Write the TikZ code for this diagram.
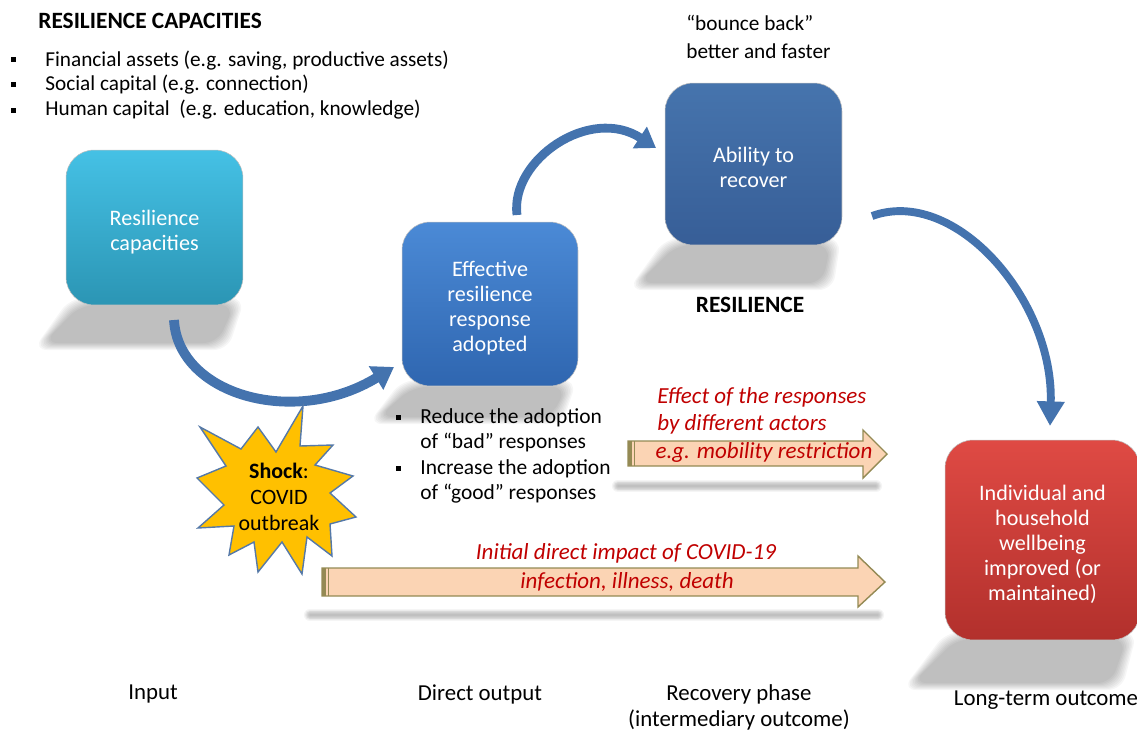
\documentclass[tikz,border=0pt]{standalone}
\usepackage{fontspec}
\setmainfont{Carlito}
\usetikzlibrary{arrows.meta}
\definecolor{cyantop}{HTML}{45C1E5}
\definecolor{cyanbot}{HTML}{2B95B4}
\definecolor{bluetop}{HTML}{4B8AD6}
\definecolor{bluebot}{HTML}{2F66B0}
\definecolor{navytop}{HTML}{4674AD}
\definecolor{navybot}{HTML}{375E97}
\definecolor{redtop}{HTML}{DF4A44}
\definecolor{redbot}{HTML}{B2302C}
\definecolor{arrowblue}{HTML}{4473AE}
\definecolor{peach}{HTML}{FBD4B4}
\definecolor{olive}{HTML}{948A54}
\definecolor{darkred}{HTML}{C00000}
\definecolor{starfill}{HTML}{FFC000}
\definecolor{starline}{HTML}{5579A8}
\newcommand\mysoftshadow[8]{%
  \foreach \k in {0,...,7}{%
    \fill[black,opacity=0.036,rounded corners=8pt]
      (#1+\k*1.5,#2+\k) -- (#3-\k*1.5,#4+\k) -- (#5-\k*1.5,#6-\k) -- (#7+\k*1.5,#8-\k) -- cycle;}}
\newcommand\mylineshadow[3]{%
  \foreach \w in {1,...,7}{%
    \draw[black,opacity=0.04,line width=\w pt,line cap=round] (#1,#3) -- (#2,#3);}}
\begin{document}
\begin{tikzpicture}[x=0.02cm,y=-0.02cm,
  txt/.style={font=\fontsize{12.1}{14.2}\selectfont, inner sep=0pt, text=black},
  boldtxt/.style={txt, font=\fontsize{13.3}{15}\selectfont\bfseries},
  redtxt/.style={txt, text=darkred, font=\fontsize{13.1}{15.3}\selectfont\itshape},
  labeltxt/.style={txt, font=\fontsize{13}{14.8}\selectfont},
  box/.style={rounded corners=16pt, draw=black!25, line width=0.3pt, inner sep=0pt},
  boxtxt/.style={text=white, align=center, font=\fontsize{12.6}{14.3}\selectfont, inner sep=0pt},
  carrow/.style={draw=arrowblue, line cap=butt},
  blockarrow/.style={fill=peach, draw=olive, line width=0.8pt, line join=miter},
  bulletsq/.style={fill=black}
  ]
\useasboundingbox (0,0) rectangle (1137,730);

% ---------- shadows ----------
\mysoftshadow{70}{298}{245}{298}{228}{350}{33}{350}
\mysoftshadow{402}{380}{577}{380}{562}{424}{368}{424}
\mysoftshadow{666}{238}{841}{238}{833}{290}{628}{290}
\mysoftshadow{946}{632}{1137}{632}{1122}{690}{902}{690}
\mylineshadow{618}{876}{486}
\mylineshadow{310}{878}{615}

% ---------- header text ----------
\node[boldtxt, anchor=west] (title) at (38,21) {RESILIENCE CAPACITIES};
\fill[bulletsq] (11,57) rectangle (16,62);
\fill[bulletsq] (11,82) rectangle (16,87);
\fill[bulletsq] (11,108) rectangle (16,113);
\node[txt, anchor=west, align=left] (caplist) at (45,85)
  {Financial assets (e.g. saving, productive assets)\\
   Social capital (e.g. connection)\\
   Human capital\ \ (e.g. education, knowledge)};

\node[txt, anchor=west, align=left, font=\fontsize{12.1}{15.9}\selectfont] (bounce) at (686,37)
  {“bounce back”\\better and faster};

% ---------- boxes ----------
\node[box, top color=cyantop, bottom color=cyanbot, minimum width=3.54cm, minimum height=3.1cm]
  (rc) at (154.5,227.5) {};
\node[boxtxt] (rctxt) at ([yshift=-2.5pt]rc.center) {Resilience\\capacities};
\node[box, top color=bluetop, bottom color=bluebot, minimum width=3.52cm, minimum height=3.28cm]
  (err) at (490,304) {};
\node[boxtxt] (errtxt) at ([yshift=-2.5pt]err.center) {Effective\\resilience\\response\\adopted};
\node[box, top color=navytop, bottom color=navybot, minimum width=3.54cm, minimum height=3.24cm]
  (atr) at (753.5,164) {};
\node[boxtxt] (atrtxt) at ([yshift=-2pt]atr.center) {Ability to\\recover};
\node[box, top color=redtop, bottom color=redbot, minimum width=3.9cm, minimum height=4cm]
  (iwb) at (1042.5,540) {};
\node[boxtxt] (iwbtxt) at ([yshift=-2.5pt]iwb.center) {Individual and\\household\\wellbeing\\improved (or\\maintained)};

\node[boldtxt] (resil) at (750,305) {RESILIENCE};

% ---------- curved arrows ----------
\coordinate (a1s) at (174,320);
\coordinate (a1e) at (394,367);
\draw[carrow, line width=5.6pt, -{Triangle[width=15pt,length=12pt]}]
  (a1s) .. controls (178,395) and (295,428) .. (a1e);
\coordinate (a2s) at (517,215);
\coordinate (a2e) at (656,148);
\draw[carrow, line width=5pt, -{Triangle[width=14pt,length=11pt]}]
  (a2s) .. controls (510,160) and (590,105) .. (a2e);
\coordinate (a3s) at (872,216);
\coordinate (a3e) at (1050,426);
\draw[carrow, line width=4.5pt, -{Triangle[width=15pt,length=14pt]}]
  (a3s) .. controls (955,186) and (1054,300) .. (a3e);

% ---------- bullets under box 2 ----------
\fill[bulletsq] (396,415) rectangle (401,420);
\fill[bulletsq] (396,466) rectangle (401,471);
\node[txt, anchor=west, align=left, font=\fontsize{12.2}{14.35}\selectfont] (resp) at (420,456)
  {Reduce the adoption\\of “bad” responses\\Increase the adoption\\of “good” responses};

% ---------- block arrows ----------
\draw[blockarrow] (628,441) -- (863,441) -- (863,430) -- (887,454) -- (863,478) -- (863,466) -- (628,466) -- cycle;
\fill[olive] (628,441) rectangle (632,466);
\draw[olive, line width=0.6pt] (634.5,441) -- (634.5,466);
\node[redtxt, anchor=west, align=left] (effect) at (657,410.5)
  {Effect of the responses\\by different actors};
\node[redtxt] (mobil) at (764,452) {e.g. mobility restriction};

\draw[blockarrow] (322,568) -- (858,568) -- (858,556) -- (885,582) -- (858,607) -- (858,596) -- (322,596) -- cycle;
\fill[olive] (322,568) rectangle (326,596);
\draw[olive, line width=0.6pt] (328.5,568) -- (328.5,596);
\node[redtxt] (impact) at (626,553) {Initial direct impact of COVID-19};
\node[redtxt] (illness) at (627,582) {infection, illness, death};

% ---------- starburst ----------
\filldraw[fill=starfill, draw=starline, line width=0.8pt, line join=miter]
  (303,406) -- (300,446) -- (333,445) -- (315,465) -- (353,476) -- (330,493)
  -- (356,517) -- (330,524) -- (332,556) -- (307,537) -- (302,574) -- (282,542)
  -- (258,572) -- (254,542) -- (229,555) -- (234,526) -- (198,528) -- (224,505)
  -- (197,478) -- (226,466) -- (200,427) -- (241,449) -- (258,427) -- (276,452) -- cycle;
\node[txt, align=center, font=\fontsize{12.5}{14.8}\selectfont] (shock) at (279,497)
  {\textbf{Shock}:\\COVID\\outbreak};

% ---------- bottom labels ----------
\node[labeltxt] (input) at (153,694) {Input};
\node[labeltxt] (dout) at (480,694) {Direct output};
\node[labeltxt, align=center] (recov) at (739,707)
  {Recovery phase\\(intermediary outcome)};
\node[labeltxt] (lto) at (1046,700) {Long-term outcome};
\end{tikzpicture}
\end{document}
